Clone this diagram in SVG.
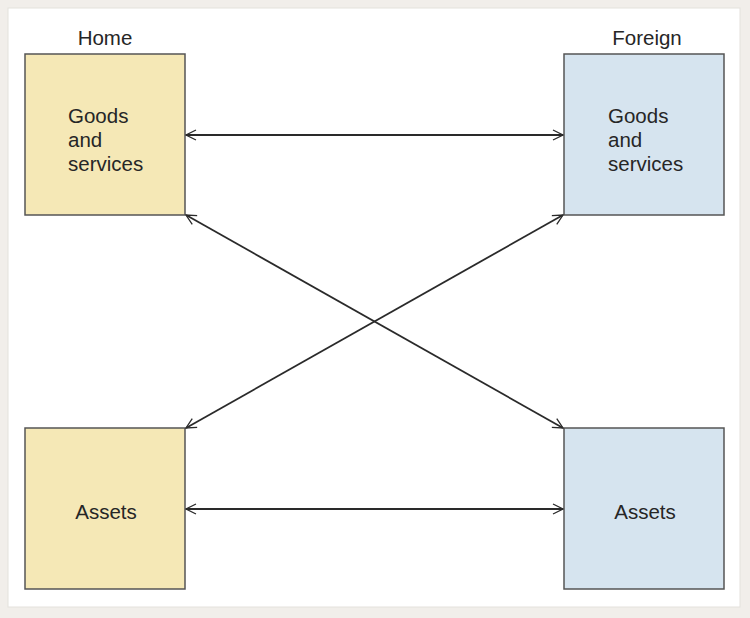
<svg xmlns="http://www.w3.org/2000/svg" width="750" height="618" viewBox="0 0 750 618">
<style>
.t{font-family:"Liberation Sans",Arial,sans-serif;font-size:20.5px;fill:#262626}
.home{fill:#f5e8b6;stroke:#555;stroke-width:1.5}
.for{fill:#d6e4ef;stroke:#555;stroke-width:1.5}
.c{stroke:#2a2a2a;stroke-width:1.8;fill:none;marker-start:url(#a);marker-end:url(#a)}
</style>
<defs>
<marker id="a" viewBox="0 0 12 12" refX="11" refY="6" markerWidth="12" markerHeight="12" markerUnits="userSpaceOnUse" orient="auto-start-reverse">
<path d="M1,1 L11,6 L1,11" fill="none" stroke="#2a2a2a" stroke-width="1.3"/>
</marker>
</defs>
<rect x="0" y="0" width="750" height="618" fill="#f1eeea"/>
<rect x="8" y="8" width="732" height="599" fill="#ffffff" stroke="#e4e1dc" stroke-width="1"/>
<text class="t" x="105" y="45" text-anchor="middle">Home</text>
<text class="t" x="647" y="45" text-anchor="middle">Foreign</text>
<g id="home-goods">
<rect class="home" x="25" y="54" width="160" height="161"/>
<text class="t" x="68" y="123">Goods</text>
<text class="t" x="68" y="147">and</text>
<text class="t" x="68" y="171">services</text>
</g>
<g id="foreign-goods">
<rect class="for" x="564" y="54" width="160" height="161"/>
<text class="t" x="608" y="123">Goods</text>
<text class="t" x="608" y="147">and</text>
<text class="t" x="608" y="171">services</text>
</g>
<g id="home-assets">
<rect class="home" x="25" y="428" width="160" height="161"/>
<text class="t" x="106" y="519" text-anchor="middle">Assets</text>
</g>
<g id="foreign-assets">
<rect class="for" x="564" y="428" width="160" height="161"/>
<text class="t" x="645" y="519" text-anchor="middle">Assets</text>
</g>
<g id="connectors">
<line class="c" x1="186" y1="135" x2="563" y2="135"/>
<line class="c" x1="186" y1="509" x2="563" y2="509"/>
<line class="c" x1="186" y1="215" x2="563" y2="428"/>
<line class="c" x1="186" y1="428" x2="563" y2="215"/>
</g>
</svg>
